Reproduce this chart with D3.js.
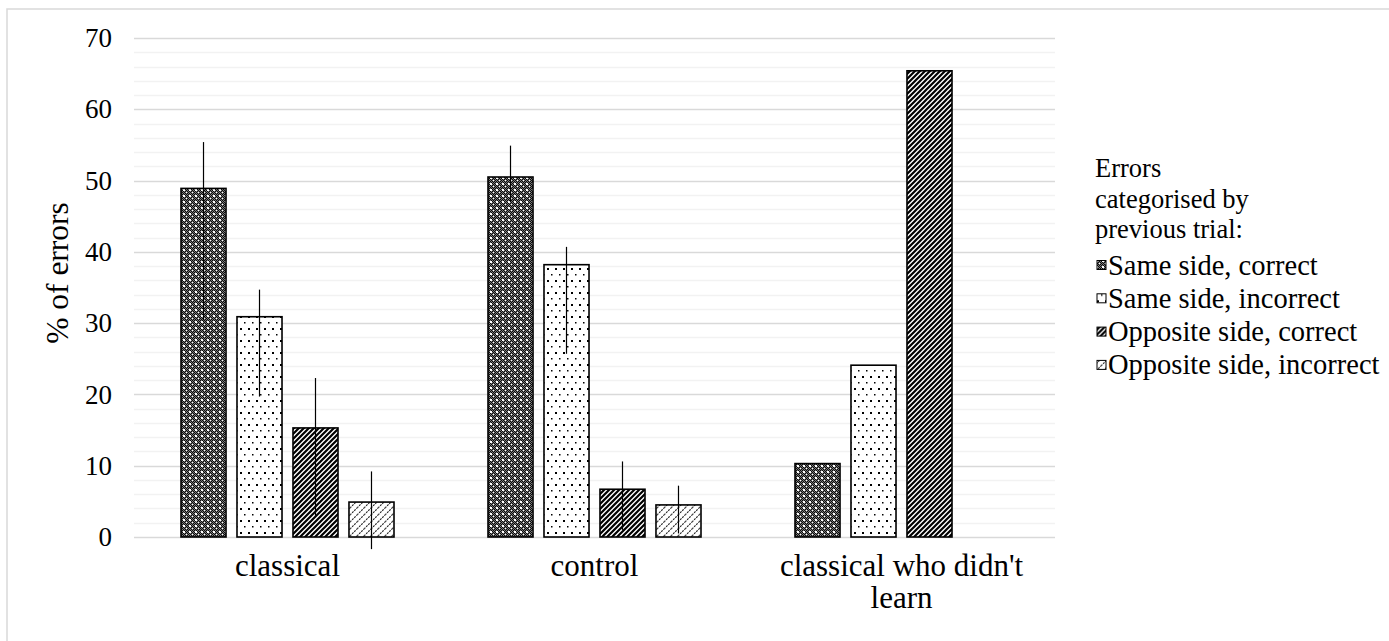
<!DOCTYPE html>
<html>
<head>
<meta charset="utf-8">
<script src="https://cdn.jsdelivr.net/npm/d3@7"></script>
<style>
  body { margin: 0; background: #fff; }
  svg { display: block; font-family: "Liberation Serif", "Times New Roman", serif; }
  .grid-major { stroke: #d9d9d9; stroke-width: 1.3; }
  .grid-minor { stroke: #f2f2f2; stroke-width: 1.3; }
</style>
</head>
<body>
<div id="chart"></div>
<script>
  const categories = ["classical", "control", "classical who didn't learn"];
  const categoryLines = [["classical"], ["control"], ["classical who didn't", "learn"]];
  const seriesNames = [
    "Same side, correct",
    "Same side, incorrect",
    "Opposite side, correct",
    "Opposite side, incorrect",
  ];

  // bar values per series (one per category)
  const sameCorrect = [48.9, 50.5, 10.3];
  const sameIncorrect = [30.9, 38.2, 24.1];
  const oppositeCorrect = [15.3, 6.7, 65.4];
  const oppositeIncorrect = [4.9, 4.5, null];

  // error bar extents (plus / minus) per series
  const sameCorrectPlus = [6.5, 4.4, null];
  const sameCorrectMinus = [18.5, 3.5, null];
  const sameIncorrectPlus = [3.8, 2.5, null];
  const sameIncorrectMinus = [11.2, 12.5, null];
  const oppositeCorrectPlus = [7.0, 3.9, null];
  const oppositeCorrectMinus = [12.3, 5.7, null];
  const oppositeIncorrectPlus = [4.3, 2.7, null];
  const oppositeIncorrectMinus = [6.6, 4.0, null];

  const yTicks = [0, 10, 20, 30, 40, 50, 60, 70];
  const legendTitle = ["Errors", "categorised by", "previous trial:"];

  const seriesValues = [sameCorrect, sameIncorrect, oppositeCorrect, oppositeIncorrect];
  const seriesPlus = [sameCorrectPlus, sameIncorrectPlus, oppositeCorrectPlus, oppositeIncorrectPlus];
  const seriesMinus = [sameCorrectMinus, sameIncorrectMinus, oppositeCorrectMinus, oppositeIncorrectMinus];
  const patternIds = ["pat-checker", "pat-dots", "pat-dark-diag", "pat-light-diag"];

  const W = 1389;
  const H = 641;
  const margin = { top: 38, right: 334, bottom: 104, left: 134 };
  const width = W - margin.left - margin.right;
  const height = H - margin.top - margin.bottom;

  const svg = d3
    .select("#chart")
    .append("svg")
    .attr("width", W)
    .attr("height", H);

  // fill patterns
  const defs = svg.append("defs");

  const checker = defs
    .append("pattern")
    .attr("id", "pat-checker")
    .attr("patternUnits", "userSpaceOnUse")
    .attr("width", 6)
    .attr("height", 6);
  checker.append("rect").attr("width", 6).attr("height", 6).attr("fill", "#3a3a3a");
  for (let i = 0; i < 6; i++) {
    for (let j = 0; j < 6; j++) {
      checker
        .append("rect")
        .attr("x", i)
        .attr("y", j)
        .attr("width", 1)
        .attr("height", 1)
        .attr("fill", (i + j) % 2 === 0 ? "#0a0a0a" : "#7a7a7a");
    }
  }
  checker.append("rect").attr("x", 1).attr("y", 1).attr("width", 2).attr("height", 2).attr("fill", "#fff");
  checker.append("rect").attr("x", 4).attr("y", 4).attr("width", 1).attr("height", 1).attr("fill", "#fff");

  const dots = defs
    .append("pattern")
    .attr("id", "pat-dots")
    .attr("patternUnits", "userSpaceOnUse")
    .attr("width", 8)
    .attr("height", 12);
  dots.append("rect").attr("width", 8).attr("height", 12).attr("fill", "#fff");
  dots.append("rect").attr("x", 2).attr("y", 2).attr("width", 2).attr("height", 2).attr("fill", "#000");
  dots.append("rect").attr("x", 6).attr("y", 8).attr("width", 1.5).attr("height", 1.5).attr("fill", "#000");

  const darkDiag = defs
    .append("pattern")
    .attr("id", "pat-dark-diag")
    .attr("patternUnits", "userSpaceOnUse")
    .attr("width", 5)
    .attr("height", 5);
  darkDiag.append("rect").attr("width", 5).attr("height", 5).attr("fill", "#fff");
  darkDiag
    .append("path")
    .attr("d", "M-1,6 L6,-1 M-1,1 L1,-1 M4,6 L6,4")
    .attr("stroke", "#000")
    .attr("stroke-width", 2.2);

  const lightDiag = defs
    .append("pattern")
    .attr("id", "pat-light-diag")
    .attr("patternUnits", "userSpaceOnUse")
    .attr("width", 7)
    .attr("height", 7);
  lightDiag.append("rect").attr("width", 7).attr("height", 7).attr("fill", "#fff");
  lightDiag
    .append("path")
    .attr("d", "M-1,8 L8,-1 M-1,1 L1,-1 M6,8 L8,6")
    .attr("stroke", "#222")
    .attr("stroke-width", 1.1)
    .attr("stroke-dasharray", "2,1");

  // outer chart frame
  svg
    .append("rect")
    .attr("x", 7)
    .attr("y", 9)
    .attr("width", W + 50)
    .attr("height", H + 50)
    .attr("fill", "none")
    .attr("stroke", "#d9d9d9")
    .attr("stroke-width", 1.5);

  const g = svg.append("g").attr("transform", `translate(${margin.left},${margin.top})`);

  // scales
  const x0 = d3.scaleBand().domain(categories).range([0, width]);
  const x1 = d3
    .scaleBand()
    .domain(seriesNames)
    .range([47, x0.bandwidth() - 47])
    .paddingInner(0.196);
  const y = d3.scaleLinear().domain([0, 70]).range([height, 0]);

  // minor gridlines every 2, major every 10
  g.selectAll("line.grid-minor")
    .data(d3.range(2, 70, 2).filter((d) => d % 10 !== 0))
    .join("line")
    .attr("class", "grid-minor")
    .attr("x1", 0)
    .attr("x2", width)
    .attr("y1", (d) => Math.round(y(d)) + 0.5)
    .attr("y2", (d) => Math.round(y(d)) + 0.5);

  g.selectAll("line.grid-major")
    .data(yTicks)
    .join("line")
    .attr("class", "grid-major")
    .attr("x1", 0)
    .attr("x2", width)
    .attr("y1", (d) => Math.round(y(d)) + 0.5)
    .attr("y2", (d) => Math.round(y(d)) + 0.5);

  // y tick labels
  const yAxis = g
    .append("g")
    .call(d3.axisLeft(y).tickValues(yTicks).tickSize(0).tickPadding(22));
  yAxis.select(".domain").remove();
  yAxis
    .selectAll("text")
    .attr("font-family", "Liberation Serif, Times New Roman, serif")
    .attr("font-size", 27)
    .attr("fill", "#000");

  // y title
  svg
    .append("text")
    .attr("transform", "translate(68,273) rotate(-90)")
    .attr("text-anchor", "middle")
    .attr("font-size", 31.5)
    .attr("fill", "#000")
    .text("% of errors");

  // bars
  const groups = g
    .selectAll("g.cat")
    .data(categories)
    .join("g")
    .attr("class", "cat")
    .attr("transform", (d) => `translate(${x0(d)},0)`);

  seriesNames.forEach((s, si) => {
    const rows = categories.map((c, ci) => ({
      c,
      v: seriesValues[si][ci],
      plus: seriesPlus[si][ci],
      minus: seriesMinus[si][ci],
    }));

    groups
      .data(rows)
      .filter((d) => d.v !== null)
      .append("rect")
      .attr("x", x1(s))
      .attr("width", x1.bandwidth())
      .attr("y", (d) => y(d.v))
      .attr("height", (d) => y(0) - y(d.v))
      .attr("fill", `url(#${patternIds[si]})`)
      .attr("stroke", "#000")
      .attr("stroke-width", 1.6);

    groups
      .data(rows)
      .filter((d) => d.v !== null && d.plus !== null)
      .append("line")
      .attr("x1", x1(s) + x1.bandwidth() / 2)
      .attr("x2", x1(s) + x1.bandwidth() / 2)
      .attr("y1", (d) => y(d.v + d.plus))
      .attr("y2", (d) => y(d.v - d.minus))
      .attr("stroke", "#000")
      .attr("stroke-width", 1.2);
  });

  // category labels
  const catLabels = g
    .selectAll("text.cat-label")
    .data(categories)
    .join("text")
    .attr("class", "cat-label")
    .attr("text-anchor", "middle")
    .attr("font-size", 31)
    .attr("fill", "#000")
    .attr("x", (d) => x0(d) + x0.bandwidth() / 2)
    .attr("y", height + 39);
  catLabels.each(function (d, i) {
    d3.select(this)
      .selectAll("tspan")
      .data(categoryLines[i])
      .join("tspan")
      .attr("x", x0(d) + x0.bandwidth() / 2)
      .attr("dy", (t, j) => (j === 0 ? 0 : 32))
      .text((t) => t);
  });

  // legend
  const legend = svg.append("g").attr("transform", "translate(1095,0)");
  legend
    .selectAll("text.title")
    .data(legendTitle)
    .join("text")
    .attr("class", "title")
    .attr("x", 0)
    .attr("y", (d, i) => 177 + i * 30.5)
    .attr("font-size", 26.5)
    .attr("fill", "#000")
    .text((d) => d);

  const items = legend
    .selectAll("g.item")
    .data(seriesNames)
    .join("g")
    .attr("class", "item")
    .attr("transform", (d, i) => `translate(0,${265 + i * 33.3})`);
  items
    .append("rect")
    .attr("x", 2)
    .attr("y", -4.5)
    .attr("width", 9)
    .attr("height", 9)
    .attr("fill", (d, i) => `url(#${patternIds[i]})`)
    .attr("stroke", "#000")
    .attr("stroke-width", 1);
  items
    .append("text")
    .attr("x", 13)
    .attr("y", 9.5)
    .attr("font-size", 28.5)
    .attr("fill", "#000")
    .text((d) => d);
</script>
</body>
</html>
